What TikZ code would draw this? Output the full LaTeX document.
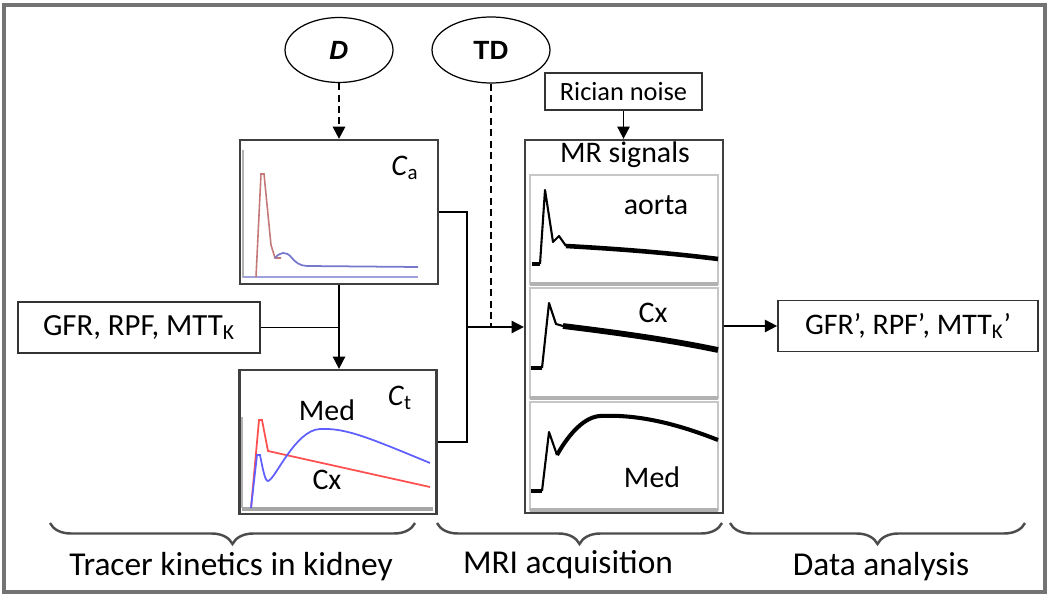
\documentclass[tikz,border=0pt]{standalone}
\usepackage{fontspec}
\setmainfont{Carlito}
\newfontfamily\arialfont{Liberation Sans}
\usetikzlibrary{arrows.meta,shapes.geometric,decorations.pathreplacing}

\definecolor{cared}{RGB}{196,120,120}
\definecolor{cablue}{RGB}{120,120,205}
\definecolor{ctred}{RGB}{255,80,80}
\definecolor{ctblue}{RGB}{95,95,255}

\begin{document}
\begin{tikzpicture}[x=0.02cm, y=-0.02cm,
    every node/.style={font=\fontsize{17}{20}\selectfont},
    plotbox/.style={draw=black!75, line width=1.3pt, inner sep=0pt},
    parambox/.style={draw=black!80, line width=1pt, inner sep=0pt},
    oval/.style={ellipse, draw, line width=0.7pt, inner sep=0pt, font=\arialfont\bfseries\fontsize{15}{18}\selectfont},
    arr/.style={line width=1pt, -{Triangle[length=7pt,width=7pt]}},
    dashline/.style={line width=1.3pt, dash pattern=on 4pt off 2.5pt},
    panel/.style={draw=black!22, line width=0.8pt},
    sig/.style={line width=1.2pt, line join=round},
    bracelbl/.style={font=\fontsize{19}{22}\selectfont}]
    \useasboundingbox (0,0) rectangle (1050,597);
    \draw[draw=black!55, line width=1.8pt] (4,5) rectangle (1045,592);

    % inputs and boxes
    \node[oval, minimum width=2.16cm, minimum height=1.3cm] (dose) at (339,50) {\textit{D}};
    \node[oval, minimum width=2.36cm, minimum height=1.32cm] (delay) at (491,50) {TD};
    \node[parambox, minimum width=3.14cm, minimum height=0.74cm, font=\fontsize{15}{18}\selectfont] (noise) at (623.5,91.5) {Rician noise};
    \node[plotbox, minimum width=3.96cm, minimum height=2.88cm] (ca) at (339,212) {};
    \node[plotbox, minimum width=3.94cm, minimum height=2.88cm] (ct) at (338,442) {};
    \node[plotbox, minimum width=3.96cm, minimum height=7.46cm] (mr) at (624,326.5) {};
    \node[parambox, minimum width=4.84cm, minimum height=1.02cm, font=\fontsize{17.5}{20}\selectfont] (par) at (139,327.5) {GFR, RPF, MTT\textsubscript{K}};
    \node[parambox, minimum width=5.2cm, minimum height=1.02cm, font=\fontsize{17}{20}\selectfont] (res) at (908,326) {GFR’, RPF’, MTT\textsubscript{K}’};

    % C_a plot
    \draw[black!30, line width=1pt] (243,150) -- (243,278);
    \draw[cablue!70, line width=0.9pt] (243,277) -- (418,277);
    \draw[cared, line width=0.9pt] (256,277) -- (261,174) -- (264,174) -- (271,245) -- (275,258) -- (281,258);
    \draw[cablue, line width=1pt] (275,258) .. controls (280,252) and (286,251) .. (291,257)
        .. controls (295,262) and (300,266) .. (307,266) -- (418,267);
    \path (405,168) node (calbl) {\textit{C}\textsubscript{a}};

    % C_t plot
    \draw[black!30, line width=1pt] (242,417) -- (242,508);
    \draw[black!35, line width=2pt] (242,509) -- (433,509);
    \draw[ctred, line width=1pt] (251,508) -- (259,420) -- (262,420) -- (268,451) -- (430,487);
    \draw[ctblue, line width=1pt] (251,508) -- (257,455) -- (260,455) .. controls (263,470) and (265,481) .. (268,481)
        .. controls (275,480) and (295,430) .. (320,429) .. controls (345,428) and (365,436) .. (430,463);
    \path (400,398) node (ctlbl) {\textit{C}\textsubscript{t}};
    \path (327,410) node (ctmed) {Med};
    \path (327,480) node (ctcx) {Cx};

    % MR signals
    \path (625,155) node (mrlbl) {MR signals};
    \foreach \top/\bot in {175/284, 288/398, 402/510}{
      \draw[panel] (530,\top) rectangle (718,\bot);
      \draw[black!30, line width=2pt] (530,\bot) -- (718,\bot);
    }
    \draw[sig, line width=2.2pt] (532,264) -- (540,264);
    \draw[sig] (540,264) -- (545,190) -- (553,242) -- (559,236) -- (566,246);
    \draw[sig, line width=2.6pt] (566,246) .. controls (620,249) and (670,253) .. (718,259);
    \draw[sig, line width=2.2pt] (531,368) -- (542,368);
    \draw[sig] (542,368) -- (549,303) -- (556,324) -- (563,326);
    \draw[sig, line width=3.3pt] (563,326) .. controls (620,333) and (670,340) .. (718,350);
    \draw[sig, line width=2.2pt] (531,491) -- (542,491);
    \draw[sig] (542,491) -- (549,432) -- (557,455);
    \draw[sig, line width=2.3pt] (557,455) .. controls (570,432) and (585,417) .. (600,416)
        .. controls (640,414) and (680,425) .. (718,440);
    \path (656,205) node (aorta) {aorta};
    \path (653,313) node (mrcx) {Cx};
    \path (652,477) node (mrmed) {Med};

    % connectors
    \coordinate (merge) at (467,327);
    \draw[arr, dashline] (dose.south) -- (ca.north);
    \draw[arr] (noise.south) -- (noise.south |- mr.north);
    \draw[line width=1pt] (ca.east) -| (merge) |- (ct.east);
    \draw[arr] (merge) -- (merge -| mr.west);
    \draw[dashline] (delay.south) -- (delay.south |- merge);
    \draw[arr] (ca.south) -- (ca.south |- ct.north);
    \draw[line width=1pt] (par.east) -- (par.east -| ca.south);
    \draw[arr] (mr.east |- res.west) -- (res.west);

    % braces
    \foreach \xa/\xb in {50/415, 437/722, 730/1025}
      \draw[black!70, line width=1.4pt, decoration={brace, mirror, amplitude=0.42cm}, decorate] (\xa,523) -- (\xb,523);
    \path (231,567) node[bracelbl] (trk) {Tracer kinetics in kidney};
    \path (568,565) node[bracelbl] (mri) {MRI acquisition};
    \path (881,567) node[bracelbl] (ana) {Data analysis};
\end{tikzpicture}
\end{document}
